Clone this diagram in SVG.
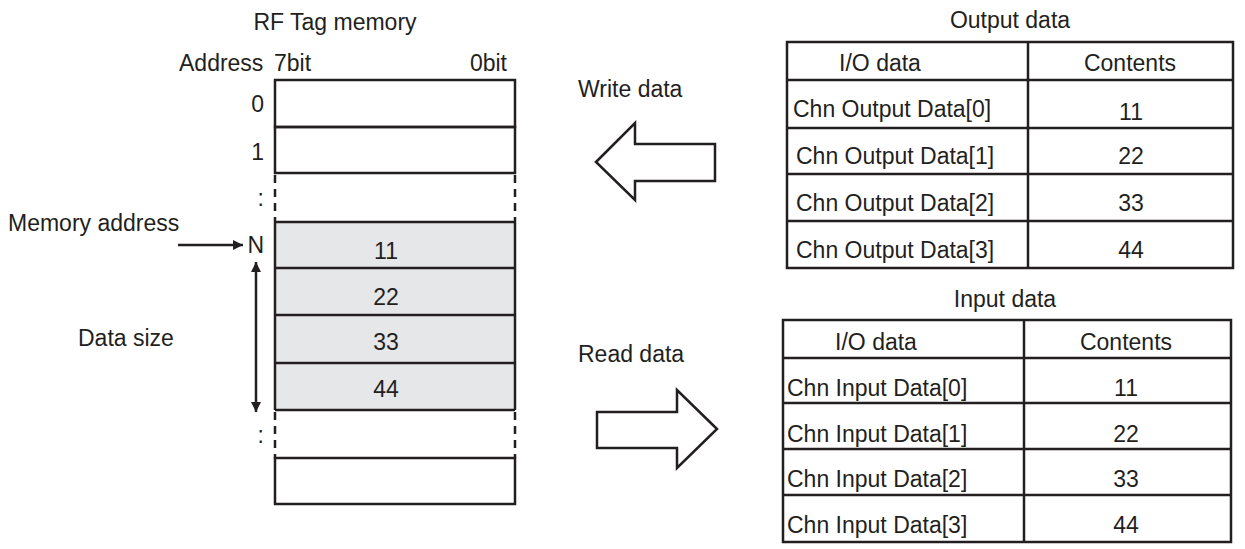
<svg xmlns="http://www.w3.org/2000/svg" width="1245" height="549" viewBox="0 0 1245 549">
<style>
text{font-family:"Liberation Sans",Arial,sans-serif;font-size:23px;fill:#231f20}
.m{text-anchor:middle}
.e{text-anchor:end}
.ln{stroke:#231f20;stroke-width:2.5;fill:none}
.dash{stroke:#231f20;stroke-width:2.5;fill:none;stroke-dasharray:8 6}
.g{fill:#e6e7e8}
</style>
<defs>
<marker id="ah" viewBox="0 0 10 10" refX="10" refY="5" markerWidth="14" markerHeight="10" markerUnits="userSpaceOnUse" orient="auto-start-reverse">
<path d="M0,0 L10,5 L0,10 z" fill="#231f20"/>
</marker>
</defs>
<rect width="1245" height="549" fill="#fff"/>

<g id="memory">
<text class="m" x="335" y="30">RF Tag memory</text>
<text x="179" y="71">Address</text>
<text x="274" y="71">7bit</text>
<text class="e" x="507" y="71">0bit</text>
<rect class="ln" x="275" y="80" width="240" height="47"/>
<rect class="ln" x="275" y="127" width="240" height="46"/>
<line class="dash" x1="275" y1="175" x2="275" y2="222"/>
<line class="dash" x1="515" y1="175" x2="515" y2="222"/>
<rect class="g" x="275" y="222" width="240" height="188"/>
<line class="ln" x1="275" y1="222" x2="515" y2="222"/>
<line class="ln" x1="275" y1="268" x2="515" y2="268"/>
<line class="ln" x1="275" y1="315" x2="515" y2="315"/>
<line class="ln" x1="275" y1="363" x2="515" y2="363"/>
<line class="ln" x1="275" y1="410" x2="515" y2="410"/>
<line class="ln" x1="275" y1="222" x2="275" y2="410"/>
<line class="ln" x1="515" y1="222" x2="515" y2="410"/>
<line class="dash" x1="275" y1="412" x2="275" y2="458"/>
<line class="dash" x1="515" y1="412" x2="515" y2="458"/>
<rect class="ln" x="275" y="458" width="240" height="46"/>
<text class="e" x="264" y="112">0</text>
<text class="e" x="264" y="160">1</text>
<text class="e" x="264" y="206">:</text>
<text class="e" x="264" y="253">N</text>
<text class="e" x="264" y="443">:</text>
<text class="m" x="386" y="259">11</text>
<text class="m" x="386" y="305">22</text>
<text class="m" x="386" y="350">33</text>
<text class="m" x="386" y="397">44</text>
</g>

<g id="labels">
<text x="8" y="231">Memory address</text>
<text x="78" y="346">Data size</text>
<text x="578" y="97">Write data</text>
<text x="578" y="362">Read data</text>
</g>

<g id="connectors">
<line class="ln" x1="178" y1="245" x2="243" y2="245" marker-end="url(#ah)"/>
<line class="ln" x1="256" y1="262" x2="256" y2="412" marker-start="url(#ah)" marker-end="url(#ah)"/>
<path class="ln" d="M596,162 L635,123 L635,144 L715,144 L715,181 L635,181 L635,200 Z"/>
<path class="ln" d="M717,429 L677,390 L677,412 L597,412 L597,448 L677,448 L677,468 Z"/>
</g>

<g id="output-table">
<text class="m" x="1010" y="28">Output data</text>
<rect class="ln" x="787" y="42" width="446" height="226"/>
<line class="ln" x1="1028" y1="42" x2="1028" y2="268"/>
<line class="ln" x1="787" y1="80" x2="1233" y2="80"/>
<line class="ln" x1="787" y1="128" x2="1233" y2="128"/>
<line class="ln" x1="787" y1="174" x2="1233" y2="174"/>
<line class="ln" x1="787" y1="221" x2="1233" y2="221"/>
<text class="m" x="880" y="71">I/O data</text>
<text class="m" x="1130" y="71">Contents</text>
<text x="793" y="117">Chn Output Data[0]</text>
<text x="796" y="164">Chn Output Data[1]</text>
<text x="796" y="211">Chn Output Data[2]</text>
<text x="796" y="258">Chn Output Data[3]</text>
<text class="m" x="1131" y="120">11</text>
<text class="m" x="1131" y="164">22</text>
<text class="m" x="1131" y="211">33</text>
<text class="m" x="1131" y="258">44</text>
</g>

<g id="input-table">
<text class="m" x="1005" y="307">Input data</text>
<rect class="ln" x="783" y="320" width="448" height="222"/>
<line class="ln" x1="1024" y1="320" x2="1024" y2="542"/>
<line class="ln" x1="783" y1="358" x2="1231" y2="358"/>
<line class="ln" x1="783" y1="403" x2="1231" y2="403"/>
<line class="ln" x1="783" y1="449" x2="1231" y2="449"/>
<line class="ln" x1="783" y1="495" x2="1231" y2="495"/>
<text class="m" x="876" y="350">I/O data</text>
<text class="m" x="1126" y="350">Contents</text>
<text x="787" y="396">Chn Input Data[0]</text>
<text x="787" y="442">Chn Input Data[1]</text>
<text x="787" y="487">Chn Input Data[2]</text>
<text x="787" y="533">Chn Input Data[3]</text>
<text class="m" x="1126" y="396">11</text>
<text class="m" x="1126" y="442">22</text>
<text class="m" x="1126" y="487">33</text>
<text class="m" x="1126" y="533">44</text>
</g>
</svg>
